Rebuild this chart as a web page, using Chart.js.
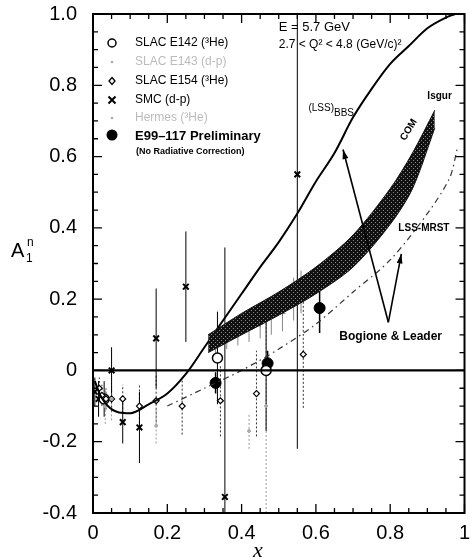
<!DOCTYPE html>
<html>
<head>
<meta charset="utf-8">
<script src="https://cdn.jsdelivr.net/npm/chart.js@4.4.1/dist/chart.umd.min.js"></script>
<style>
  html, body { margin: 0; padding: 0; background: #fff; }
  #wrap { width: 471px; height: 560px; }
</style>
</head>
<body>
<div id="wrap"><canvas id="c" width="471" height="560"></canvas></div>
<script>
// curves
const bbsX = [0.005, 0.02, 0.04, 0.07, 0.1, 0.15, 0.2, 0.25, 0.3, 0.35, 0.4, 0.45, 0.5, 0.55, 0.6, 0.65, 0.7, 0.75, 0.8, 0.85, 0.9, 0.95, 0.975];
const bbsY = [-0.03, -0.07, -0.1, -0.118, -0.12, -0.095, -0.065, -0.01, 0.065, 0.14, 0.215, 0.29, 0.36, 0.44, 0.53, 0.61, 0.71, 0.79, 0.86, 0.91, 0.96, 0.99, 1.0];

const bandX = [0.31, 0.4, 0.5, 0.6, 0.7, 0.8, 0.86, 0.92];
const bandUp = [0.10, 0.16, 0.22, 0.29, 0.38, 0.51, 0.61, 0.73];
const bandLo = [0.05, 0.10, 0.155, 0.215, 0.29, 0.41, 0.51, 0.68];

const mrstX = [0.2, 0.3, 0.4, 0.5, 0.6, 0.7, 0.8, 0.9, 0.96, 0.98];
const mrstY = [-0.1, -0.05, 0.0, 0.06, 0.13, 0.22, 0.31, 0.44, 0.54, 0.62];

// data points
const e142X = [0.03, 0.335, 0.466];
const e142Y = [-0.08, 0.035, 0.0];
const e142Err = [0.05, 0.13, 0.17];

const e154X = [0.017, 0.024, 0.035, 0.05, 0.08, 0.125, 0.17, 0.24, 0.343, 0.44, 0.566];
const e154Y = [-0.05, -0.07, -0.08, -0.08, -0.08, -0.10, -0.085, -0.10, -0.085, -0.065, 0.045];
const e154Err = [0.03, 0.03, 0.03, 0.035, 0.04, 0.06, 0.07, 0.08, 0.1, 0.12, 0.15];

const smcX = [0.005, 0.015, 0.05, 0.08, 0.125, 0.17, 0.25, 0.355, 0.55];
const smcY = [-0.06, -0.08, 0.0, -0.145, -0.16, 0.09, 0.235, -0.355, 0.55];
const smcErr = [0.04, 0.05, 0.065, 0.06, 0.1, 0.14, 0.155, 0.7, 0.77];

const e143X = [0.33, 0.36, 0.39, 0.42, 0.45, 0.48, 0.51, 0.54, 0.56];
const e143Y = [0.07, 0.09, 0.10, 0.12, 0.13, 0.15, 0.16, 0.20, 0.22];
const e143Err = [0.03, 0.03, 0.03, 0.04, 0.04, 0.05, 0.05, 0.06, 0.06];

const hermesX = [0.033, 0.05, 0.17, 0.42, 0.466];
const hermesY = [-0.10, -0.08, -0.155, -0.17, -0.10];
const hermesErr = [0.05, 0.06, 0.05, 0.05, 0.3];

const e99X = [0.33, 0.47, 0.61];
const e99Y = [-0.035, 0.02, 0.175];
const e99Err = [0.03, 0.035, 0.07];

// arrows (Bogione & Leader), in data units: [fromX, fromY, toX, toY]
const arrows = [[0.795, 0.135, 0.673, 0.62], [0.795, 0.135, 0.83, 0.327]];

const pts = (xa, ya) => xa.map((x, i) => ({x: x, y: ya[i]}));
const FONT = '"Liberation Sans", Arial, sans-serif';

function bandPattern() {
  const p = document.createElement('canvas');
  p.width = 4; p.height = 4;
  const g = p.getContext('2d');
  g.fillStyle = '#111';
  g.fillRect(0, 0, 4, 4);
  g.fillStyle = '#8a8a8a';
  g.fillRect(1, 0, 1, 1);
  g.fillRect(3, 2, 1, 1);
  return g.createPattern(p, 'repeat');
}

const errorBars = {
  id: 'errorBars',
  beforeDatasetsDraw(chart) {
    const {ctx, chartArea: a, scales: {x, y}} = chart;
    ctx.save();
    ctx.beginPath(); ctx.rect(a.left, a.top, a.width, a.height); ctx.clip();
    chart.data.datasets.forEach(ds => {
      if (!ds.errs) return;
      ctx.strokeStyle = ds.errColor || ds.borderColor;
      ctx.lineWidth = ds.errWidth || 1;
      ctx.setLineDash(ds.errDash || []);
      ds.data.forEach((p, i) => {
        const px = x.getPixelForValue(p.x);
        ctx.beginPath();
        ctx.moveTo(px, y.getPixelForValue(p.y - ds.errs[i]));
        ctx.lineTo(px, y.getPixelForValue(p.y + ds.errs[i]));
        ctx.stroke();
      });
    });
    ctx.restore();
  }
};

function drawMarker(ctx, kind, cx, cy) {
  ctx.save();
  ctx.setLineDash([]);
  if (kind === 'circle') {
    ctx.strokeStyle = '#000'; ctx.lineWidth = 1.5;
    ctx.beginPath(); ctx.arc(cx, cy, 4, 0, Math.PI * 2); ctx.stroke();
  } else if (kind === 'dot') {
    ctx.fillStyle = '#aaa';
    ctx.beginPath(); ctx.arc(cx, cy, 1.3, 0, Math.PI * 2); ctx.fill();
  } else if (kind === 'diamond') {
    ctx.strokeStyle = '#000'; ctx.lineWidth = 1.3;
    ctx.beginPath(); ctx.moveTo(cx, cy - 3.5); ctx.lineTo(cx + 3, cy); ctx.lineTo(cx, cy + 3.5); ctx.lineTo(cx - 3, cy); ctx.closePath(); ctx.stroke();
  } else if (kind === 'cross') {
    ctx.strokeStyle = '#000'; ctx.lineWidth = 2;
    ctx.beginPath(); ctx.moveTo(cx - 3.5, cy - 3.5); ctx.lineTo(cx + 3.5, cy + 3.5);
    ctx.moveTo(cx + 3.5, cy - 3.5); ctx.lineTo(cx - 3.5, cy + 3.5); ctx.stroke();
  } else if (kind === 'filled') {
    ctx.fillStyle = '#000';
    ctx.beginPath(); ctx.arc(cx, cy, 5.5, 0, Math.PI * 2); ctx.fill();
  }
  ctx.restore();
}

const decor = {
  id: 'decor',
  afterDatasetsDraw(chart) {
    const {ctx, chartArea: a, scales: {x, y}} = chart;
    ctx.save();
    // zero line
    ctx.strokeStyle = '#000'; ctx.lineWidth = 2.2;
    ctx.beginPath(); ctx.moveTo(a.left, y.getPixelForValue(0)); ctx.lineTo(a.right, y.getPixelForValue(0)); ctx.stroke();
    // frame
    ctx.lineWidth = 2;
    ctx.strokeRect(a.left, a.top, a.right - a.left, a.bottom - a.top);
    // inward ticks
    ctx.lineWidth = 1.3;
    for (let i = 0; i <= 20; i++) {
      const v = i * 0.05;
      const len = i % 4 === 0 ? 9 : 5;
      const px = x.getPixelForValue(v);
      ctx.beginPath();
      ctx.moveTo(px, a.bottom); ctx.lineTo(px, a.bottom - len);
      ctx.moveTo(px, a.top); ctx.lineTo(px, a.top + len);
      ctx.stroke();
    }
    for (let i = 0; i <= 28; i++) {
      const v = -0.4 + i * 0.05;
      const len = i % 4 === 0 ? 9 : 5;
      const py = y.getPixelForValue(v);
      ctx.beginPath();
      ctx.moveTo(a.left, py); ctx.lineTo(a.left + len, py);
      ctx.moveTo(a.right, py); ctx.lineTo(a.right - len, py);
      ctx.stroke();
    }
    // arrows
    ctx.lineWidth = 1.6;
    arrows.forEach(([x0, y0, x1, y1]) => {
      const p0x = x.getPixelForValue(x0), p0y = y.getPixelForValue(y0);
      const p1x = x.getPixelForValue(x1), p1y = y.getPixelForValue(y1);
      ctx.beginPath(); ctx.moveTo(p0x, p0y); ctx.lineTo(p1x, p1y); ctx.stroke();
      const ang = Math.atan2(p1y - p0y, p1x - p0x);
      ctx.beginPath();
      ctx.moveTo(p1x, p1y);
      ctx.lineTo(p1x - 10 * Math.cos(ang - 0.3), p1y - 10 * Math.sin(ang - 0.3));
      ctx.lineTo(p1x - 10 * Math.cos(ang + 0.3), p1y - 10 * Math.sin(ang + 0.3));
      ctx.closePath(); ctx.fillStyle = '#000'; ctx.fill();
    });

    // labels
    ctx.fillStyle = '#000';
    ctx.textBaseline = 'middle';
    ctx.textAlign = 'left';
    ctx.font = '13px ' + FONT;
    ctx.fillText('E = 5.7 GeV', x.getPixelForValue(0.5), y.getPixelForValue(0.962));
    ctx.font = '12px ' + FONT;
    ctx.fillText('2.7 < Q² < 4.8 (GeV/c)²', x.getPixelForValue(0.5), y.getPixelForValue(0.915));

    ctx.font = '10px ' + FONT;
    const lx = x.getPixelForValue(0.58), ly = y.getPixelForValue(0.735);
    ctx.fillText('(LSS)', lx, ly);
    ctx.fillText('BBS', lx + ctx.measureText('(LSS)').width, ly + 5);

    ctx.font = 'bold 10px ' + FONT;
    ctx.fillText('Isgur', x.getPixelForValue(0.9), y.getPixelForValue(0.77));
    ctx.fillText('LSS-MRST', x.getPixelForValue(0.822), y.getPixelForValue(0.40));
    ctx.save();
    ctx.translate(x.getPixelForValue(0.85), y.getPixelForValue(0.675));
    ctx.rotate(-58 * Math.PI / 180);
    ctx.textAlign = 'center';
    ctx.fillText('COM', 0, 0);
    ctx.restore();
    ctx.font = 'bold 12px ' + FONT;
    ctx.fillText('Bogione & Leader', x.getPixelForValue(0.663), y.getPixelForValue(0.094));

    // legend
    const rows = [
      ['circle', 'SLAC E142 (³He)', '#000', 43],
      ['dot', 'SLAC E143 (d-p)', '#bbb', 62],
      ['diamond', 'SLAC E154 (³He)', '#000', 81],
      ['cross', 'SMC (d-p)', '#000', 100],
      ['dot', 'Hermes (³He)', '#bbb', 118]
    ];
    ctx.font = '12px ' + FONT;
    rows.forEach(([k, t, c, ry]) => {
      drawMarker(ctx, k, 112, ry);
      ctx.fillStyle = c;
      ctx.fillText(t, 135, ry);
    });
    drawMarker(ctx, 'filled', 112, 135);
    ctx.fillStyle = '#000';
    ctx.font = 'bold 13px ' + FONT;
    ctx.fillText('E99–117 Preliminary', 135, 136);
    ctx.font = 'bold 9px ' + FONT;
    ctx.fillText('(No Radiative Correction)', 136, 152);

    // axis titles
    ctx.font = '20px ' + FONT;
    ctx.fillText('A', 11, 251);
    ctx.font = '12px ' + FONT;
    ctx.fillText('n', 27, 243);
    ctx.fillText('1', 26, 259);
    ctx.font = 'italic 22px "Liberation Serif", "DejaVu Serif", serif';
    ctx.textAlign = 'center';
    ctx.fillText('x', 258, 551);
    ctx.restore();
  }
};

new Chart(document.getElementById('c'), {
  type: 'scatter',
  data: {
    datasets: [
      { data: pts(bandX, bandLo), showLine: true, borderColor: '#111', borderWidth: 1, pointRadius: 0, tension: 0.3, fill: false },
      { data: pts(bandX, bandUp), showLine: true, borderColor: '#111', borderWidth: 1, pointRadius: 0, tension: 0.3, fill: '-1', backgroundColor: bandPattern() },
      { data: pts(bbsX, bbsY), showLine: true, borderColor: '#000', borderWidth: 2, pointRadius: 0, cubicInterpolationMode: 'monotone' },
      { data: pts(mrstX, mrstY), showLine: true, borderColor: '#333', borderWidth: 1.2, borderDash: [6, 4, 1.5, 4], pointRadius: 0, tension: 0.3 },
      { data: pts(hermesX, hermesY), errs: hermesErr, errColor: '#999', errDash: [2, 2], pointStyle: 'circle', pointRadius: 1.5, backgroundColor: '#aaa', borderColor: '#aaa' },
      { data: pts(e143X, e143Y), errs: e143Err, errColor: '#888', pointStyle: 'cross', pointRadius: 3, borderColor: '#777', borderWidth: 1 },
      { data: pts(e154X, e154Y), errs: e154Err, errColor: '#333', errDash: [2, 2], pointStyle: 'rectRot', pointRadius: 3, backgroundColor: '#fff', borderColor: '#000', borderWidth: 1.2 },
      { data: pts(e142X, e142Y), errs: e142Err, errColor: '#000', pointStyle: 'circle', pointRadius: 5, backgroundColor: '#fff', borderColor: '#000', borderWidth: 1.5 },
      { data: pts(smcX, smcY), errs: smcErr, errColor: '#000', pointStyle: 'crossRot', pointRadius: 4, borderColor: '#000', borderWidth: 2 },
      { data: pts(e99X, e99Y), errs: e99Err, errColor: '#000', errWidth: 1.5, pointStyle: 'circle', pointRadius: 5.5, backgroundColor: '#000', borderColor: '#000' }
    ]
  },
  options: {
    responsive: false,
    animation: false,
    layout: { padding: { top: 14, right: -2, left: 0, bottom: 0 } },
    plugins: { legend: { display: false }, tooltip: { enabled: false } },
    scales: {
      x: {
        type: 'linear', min: 0, max: 1,
        grid: { display: false, drawTicks: false },
        border: { display: false },
        ticks: {
          stepSize: 0.2, padding: 8, color: '#000',
          font: { family: FONT, size: 20 },
          callback: v => Math.abs(v) < 1e-9 ? '0' : (Math.abs(v - 1) < 1e-9 ? '1' : v.toFixed(1))
        },
        afterFit: s => { s.height = 47; s.paddingLeft = 0; s.paddingRight = 0; }
      },
      y: {
        type: 'linear', min: -0.4, max: 1.0,
        grid: { display: false, drawTicks: false },
        border: { display: false },
        ticks: {
          stepSize: 0.2, padding: 16, color: '#000',
          font: { family: FONT, size: 20 },
          callback: v => Math.abs(v) < 1e-9 ? '0' : v.toFixed(1)
        },
        afterFit: s => { s.width = 93; s.paddingTop = 0; s.paddingBottom = 0; }
      }
    }
  },
  plugins: [errorBars, decor]
});
</script>
</body>
</html>
